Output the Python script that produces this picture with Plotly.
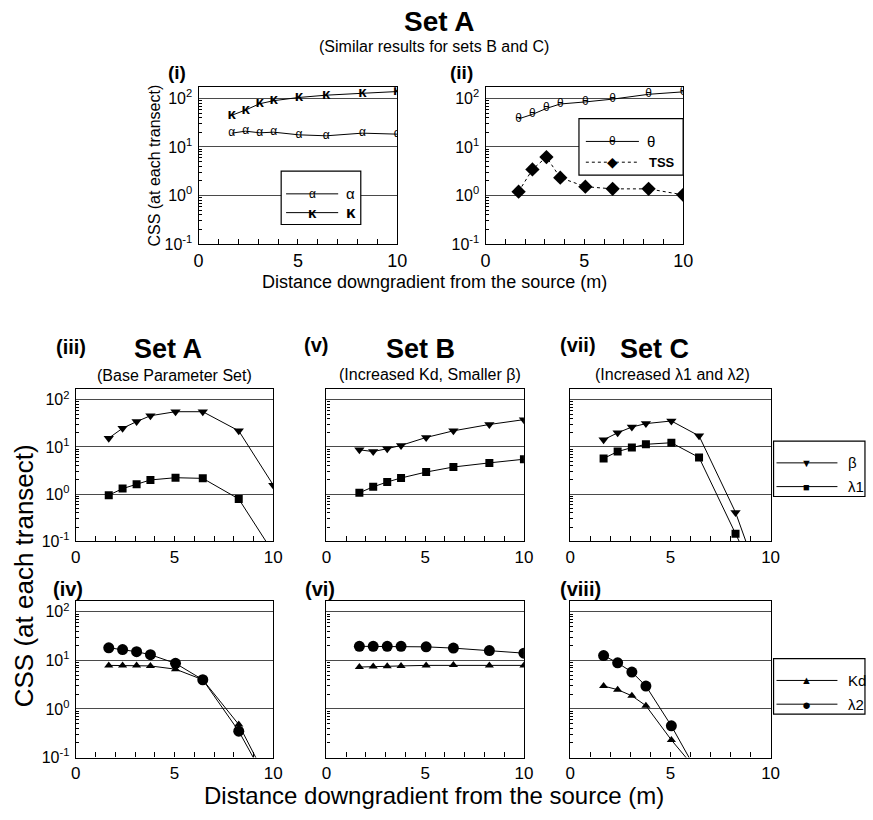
import plotly.graph_objects as go

W, H = 873, 820
FONT = "Liberation Sans, Arial, Helvetica, sans-serif"

# ---------------- data ----------------
x_dist = [1.67, 2.37, 3.08, 3.78, 5.05, 6.43, 8.25, 10.0]

# (i) Set A
alpha_A = [19.3, 21.2, 19.6, 20.2, 17.8, 17.0, 19.3, 18.4]
kappa_A = [45, 58, 78, 90, 105, 117, 128, 139]
# (ii) Set A
theta_A = [38, 47, 62.5, 77, 85, 97, 122, 137]
tss_A = [1.2, 3.44, 6.2, 2.33, 1.52, 1.37, 1.37, 1.03]
# (iii) Set A
beta_A = [15.4, 25, 34.5, 46, 56, 56, 22, 1.55]
lam1_A = [0.95, 1.31, 1.62, 2.0, 2.23, 2.16, 0.79, 0.057]
# (iv) Set A
kd_A = [7.9, 7.9, 7.9, 7.7, 6.6, 4.0, 0.48, 0.02]
lam2_A = [18.2, 16.7, 15.1, 13.1, 8.7, 4.0, 0.35, 0.018]
# (v) Set B
beta_B = [8.7, 8.0, 9.2, 10.8, 15.9, 22, 30, 38]
lam1_B = [1.07, 1.43, 1.81, 2.2, 2.94, 3.76, 4.6, 5.5]
# (vi) Set B
kd_B = [7.3, 7.5, 7.6, 7.7, 7.9, 8.0, 7.9, 7.9]
lam2_B = [19.5, 19.5, 19.5, 19.5, 19.0, 17.9, 15.9, 14.1]
# (vii) Set C
beta_C = [14.2, 20, 26.5, 31.3, 35.6, 17.2, 0.41, 0.0034]
lam1_C = [5.7, 8.0, 9.7, 11.4, 12.3, 6.0, 0.145, 0.004]
# (viii) Set C
kd_C = [2.97, 2.5, 1.87, 1.17, 0.23, 0.048, 0.004, 0.001]
lam2_C = [12.6, 8.9, 5.75, 2.97, 0.45, 0.043, 0.003, 0.001]

x_ticks = [0, 5, 10]
y_tickvals = [0.1, 1, 10, 100]
y_ticktext = ["10<sup>-1</sup>", "10<sup>0</sup>", "10<sup>1</sup>", "10<sup>2</sup>"]
y_minor = [m * d for d in (0.1, 1, 10) for m in range(2, 10)] + [200]

# ---------------- layout helpers ----------------
def fx(p):
    return p / W

def fy(p):
    return 1 - p / H

panels = {
    # key: (x0, x1, ytop, ybot, show y tick labels)
    1: (197, 399, 88.3, 246.7, True),
    2: (489, 690, 88.3, 246.7, True),
    3: (72, 273, 393.3, 547.3, True),
    4: (327, 528, 393.3, 547.3, False),
    5: (575, 779, 393.3, 547.3, False),
    6: (72, 273, 607.3, 766, True),
    7: (327, 528, 607.3, 766, False),
    8: (575, 779, 607.3, 766, False),
}

fig = go.Figure()

def ax_name(i, kind):
    return kind if i == 1 else f"{kind}{i}"

def ref(i, kind):
    return kind[0] if i == 1 else f"{kind[0]}{i}"

def add_line(i, y, symbol=None, size=8, text=None, tsize=12, bold=False, dash="solid"):
    kw = dict(x=x_dist, y=y, xaxis=ref(i, "x"), yaxis=ref(i, "y"), showlegend=False,
              line=dict(color="black", width=1, dash=dash), cliponaxis=True)
    if text is not None:
        kw["mode"] = "lines+text"
        kw["text"] = [text] * len(x_dist)
        kw["textposition"] = "middle center"
        kw["textfont"] = dict(family=FONT, size=tsize, color="black",
                              weight="bold" if bold else "normal")
    else:
        kw["mode"] = "lines+markers"
        kw["marker"] = dict(symbol=symbol, size=size, color="black",
                            line=dict(width=0))
    fig.add_trace(go.Scatter(**kw))

add_line(1, alpha_A, text="α", tsize=12)
add_line(1, kappa_A, text="κ", tsize=15, bold=True)
add_line(2, theta_A, text="θ", tsize=12)
add_line(2, tss_A, symbol="diamond", size=11, dash="dot")
add_line(3, beta_A, symbol="triangle-down", size=9)
add_line(3, lam1_A, symbol="square", size=8)
add_line(4, beta_B, symbol="triangle-down", size=9)
add_line(4, lam1_B, symbol="square", size=8)
add_line(5, beta_C, symbol="triangle-down", size=9)
add_line(5, lam1_C, symbol="square", size=8)
add_line(6, kd_A, symbol="triangle-up", size=8)
add_line(6, lam2_A, symbol="circle", size=11)
add_line(7, kd_B, symbol="triangle-up", size=8)
add_line(7, lam2_B, symbol="circle", size=11)
add_line(8, kd_C, symbol="triangle-up", size=8)
add_line(8, lam2_C, symbol="circle", size=11)

layout = dict(
    width=W, height=H,
    margin=dict(l=0, r=0, t=0, b=0),
    paper_bgcolor="white", plot_bgcolor="white",
    font=dict(family=FONT, color="black"),
    showlegend=False,
)

for i, (x0, x1, yt, yb, showy) in panels.items():
    top = i in (1, 2)
    layout[ax_name(i, "xaxis")] = dict(
        domain=[fx(x0), fx(x1)], range=[0, 10], anchor=ref(i, "y"),
        showline=True, linecolor="black", linewidth=1.3, mirror=True,
        showgrid=False, zeroline=False,
        tickvals=x_ticks, ticktext=[str(v) for v in x_ticks],
        ticks="inside", ticklen=5, tickcolor="black", tickwidth=1,
        minor=dict(dtick=1, ticks="inside", ticklen=5, tickcolor="black", tickwidth=1, showgrid=False),
        tickfont=dict(size=18 if top else 17, family=FONT, color="black"),
        ticklabelstandoff=0,
    )
    layout[ax_name(i, "yaxis")] = dict(
        domain=[fy(yb), fy(yt)], type="log", range=[-1, 2.23], anchor=ref(i, "x"),
        showline=True, linecolor="black", linewidth=1.3, mirror=True,
        showgrid=True, gridcolor="#4a4a4a", gridwidth=1.2, zeroline=False,
        tickvals=y_tickvals, ticktext=y_ticktext, showticklabels=showy,
        ticks="", tickfont=dict(size=16, family=FONT, color="black"),
        minor=dict(tickvals=y_minor, ticks="inside", ticklen=3, tickcolor="black",
                   tickwidth=1, showgrid=False),
        ticklabelstandoff=2,
    )

annotations = []

def text(xp, yp, s, size, bold=False, angle=0, xanchor="center"):
    annotations.append(dict(
        x=fx(xp), y=fy(yp), xref="paper", yref="paper", text=f"<b>{s}</b>" if bold else s,
        showarrow=False, xanchor=xanchor, yanchor="middle", textangle=angle,
        font=dict(family=FONT, size=size, color="black")))

# titles
text(441.7, 22, "Set A", 28, bold=True)
text(437, 47, "(Similar results for sets B and C)", 16)
text(175, 73, "(i)", 19, bold=True)
text(464, 73, "(ii)", 19, bold=True)
text(152, 167, "CSS (at each transect)", 16, angle=-90)
text(437.5, 285, "Distance downgradient from the source (m)", 18)

text(67, 351, "(iii)", 20, bold=True)
text(166, 353, "Set A", 27, bold=True)
text(172, 380, "(Base Parameter Set)", 16)
text(316, 349, "(v)", 20, bold=True)
text(423, 353, "Set B", 27, bold=True)
text(432, 379, "(Increased Kd, Smaller β)", 16)
text(583, 349, "(vii)", 20, bold=True)
text(661, 353, "Set C", 27, bold=True)
text(679, 379, "(Increased λ1 and λ2)", 16)
text(64, 596, "(iv)", 20, bold=True)
text(320, 596, "(vi)", 20, bold=True)
text(586, 596, "(viii)", 20, bold=True)
text(19, 582, "CSS (at each transect)", 26, angle=-90)
text(437, 804, "Distance downgradient from the source (m)", 24)

shapes = []

def box(x0, y0, x1, y1):
    shapes.append(dict(type="rect", xref="paper", yref="paper",
                       x0=fx(x0), x1=fx(x1), y0=fy(y1), y1=fy(y0),
                       line=dict(color="black", width=1.2), fillcolor="white", layer="above"))

def hline(x0, x1, y, dash="solid"):
    shapes.append(dict(type="line", xref="paper", yref="paper",
                       x0=fx(x0), x1=fx(x1), y0=fy(y), y1=fy(y),
                       line=dict(color="black", width=1, dash=dash), layer="above"))

# legend (i)
box(281, 173, 362, 227)
hline(286, 339, 196)
hline(286, 339, 215)
text(312.5, 196, "α", 12)
text(312.5, 215, "κ", 15, bold=True)
text(352, 196, "α", 15)
text(352, 215, "κ", 17, bold=True)

# legend (ii)
box(584, 120, 690, 177)
hline(591, 645, 143)
hline(591, 645, 164, dash="dot")
text(618, 143, "θ", 12)
text(618, 164, "◆", 14)
text(657, 143, "θ", 15)
text(653, 164, "TSS", 13, bold=True, xanchor="left")

# legend (vii)
box(782, 446, 875, 502)
hline(785, 847, 468)
hline(785, 847, 492)
text(816, 468, "▼", 11)
text(816, 492, "■", 11)
text(856, 468, "β", 15, xanchor="left")
text(856, 492, "λ1", 15, xanchor="left")

# legend (viii)
box(782, 666, 875, 722)
hline(785, 847, 688)
hline(785, 847, 712)
text(816, 688, "▲", 11)
text(816, 712, "●", 15)
text(856, 688, "Kd", 15, xanchor="left")
text(856, 712, "λ2", 15, xanchor="left")

layout["annotations"] = annotations
layout["shapes"] = shapes
fig.update_layout(**layout)

fig.write_html("out.html")
